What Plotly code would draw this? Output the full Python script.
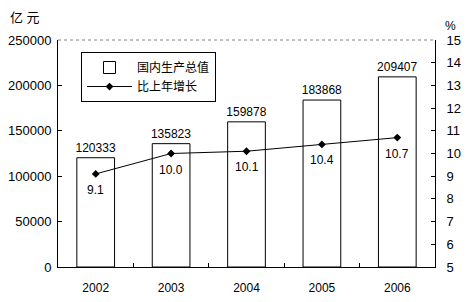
import plotly.graph_objects as go

years = ["2002", "2003", "2004", "2005", "2006"]
gdp = [120333, 135823, 159878, 183868, 209407]
growth = [9.1, 10.0, 10.1, 10.4, 10.7]
gdp_labels = [str(v) for v in gdp]
growth_labels = [f"{v:.1f}" for v in growth]

font_family = "Liberation Sans, Arial, Noto Sans CJK SC, sans-serif"

fig = go.Figure()
fig.add_trace(go.Bar(
    x=years, y=gdp, name="国内生产总值",
    marker=dict(color="white", line=dict(color="black", width=1)),
    width=0.5,
    text=gdp_labels, textposition="outside", cliponaxis=False,
    constraintext="none",
    textfont=dict(size=12, color="black", family=font_family),
))
fig.add_trace(go.Scatter(
    x=years, y=growth, name="比上年增长", yaxis="y2",
    mode="lines+markers",
    line=dict(color="black", width=1),
    marker=dict(symbol="diamond", size=6, color="black"),
))

annotations = [
    dict(text="亿 元", xref="paper", yref="paper", x=-0.088, y=1.1,
         xanchor="center", yanchor="middle", showarrow=False, font=dict(size=13)),
    dict(text="%", xref="paper", yref="paper", x=1.04, y=1.06,
         xanchor="center", yanchor="middle", showarrow=False, font=dict(size=12)),
]
for i, (g, lab) in enumerate(zip(growth, growth_labels)):
    annotations.append(dict(
        text=lab, x=i, y=g, xref="x", yref="y2", showarrow=False,
        xanchor="center", yanchor="middle", yshift=-16,
        font=dict(size=12, color="black", family=font_family),
    ))

fig.update_layout(
    width=468, height=302,
    margin=dict(l=58, r=33, t=40, b=35, autoexpand=False),
    paper_bgcolor="white", plot_bgcolor="white",
    font=dict(family=font_family, size=12, color="black"),
    showlegend=True,
    legend=dict(
        x=0.061, y=0.947, xanchor="left", yanchor="top",
        bordercolor="black", borderwidth=1, bgcolor="white",
        font=dict(size=12), tracegroupgap=0, itemwidth=45,
    ),
    xaxis=dict(
        type="category", range=[-0.5, 4.5], automargin=False,
        showline=True, linecolor="black", linewidth=1,
        ticks="inside", ticklen=4, tickcolor="black", tickson="boundaries",
        showgrid=False, ticklabelstandoff=10, tickfont=dict(size=12),
    ),
    yaxis=dict(
        range=[0, 250000], dtick=50000, tickformat="d", automargin=False,
        showline=True, linecolor="black", linewidth=1,
        ticks="inside", ticklen=4, tickcolor="black",
        showgrid=False, zeroline=False, ticklabelstandoff=3, tickfont=dict(size=13),
    ),
    yaxis2=dict(
        range=[5, 15], dtick=1, overlaying="y", side="right", automargin=False,
        showline=True, linecolor="black", linewidth=1,
        ticks="inside", ticklen=4, tickcolor="black",
        showgrid=False, zeroline=False, ticklabelstandoff=8, tickfont=dict(size=13),
    ),
    shapes=[dict(type="line", xref="paper", yref="paper", x0=0, x1=1, y0=1, y1=1,
                 line=dict(color="gray", width=1, dash="dot"))],
    annotations=annotations,
)

fig.write_html("out.html")
